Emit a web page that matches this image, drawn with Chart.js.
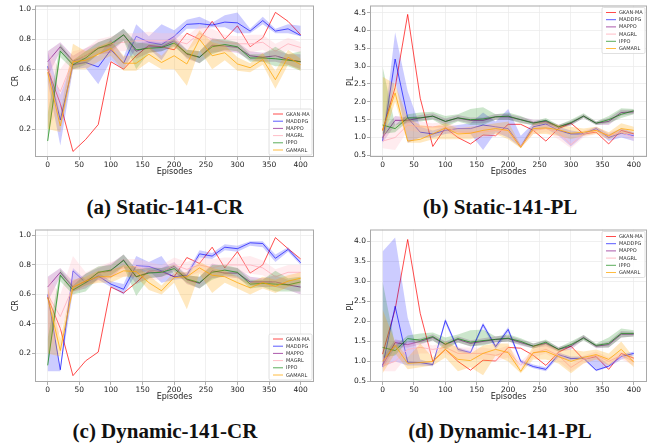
<!DOCTYPE html>
<html>
<head>
<meta charset="utf-8">
<script src="https://cdn.jsdelivr.net/npm/chart.js@4.4.1/dist/chart.umd.min.js"></script>
<style>
  body { margin: 0; background: #fff; width: 657px; height: 446px; position: relative; overflow: hidden; }
  .panel { position: absolute; }
  .cap { position: absolute; width: 330px; text-align: center; font-family: "Liberation Serif", serif; font-weight: bold; font-size: 21px; color: #111; }
</style>
</head>
<body>
<div class="panel" style="left:0;top:0"><canvas id="chartA" width="330" height="180"></canvas></div>
<div class="panel" style="left:330px;top:0"><canvas id="chartB" width="327" height="180"></canvas></div>
<div class="panel" style="left:0;top:224px"><canvas id="chartC" width="330" height="180"></canvas></div>
<div class="panel" style="left:330px;top:224px"><canvas id="chartD" width="327" height="180"></canvas></div>
<div class="cap" style="left:0;top:195px">(a) Static-141-CR</div>
<div class="cap" style="left:335px;top:195px">(b) Static-141-PL</div>
<div class="cap" style="left:0;top:419px">(c) Dynamic-141-CR</div>
<div class="cap" style="left:335px;top:419px">(d) Dynamic-141-PL</div>
<script>
const episodes = [0,20,40,60,80,100,120,140,160,180,200,220,240,260,280,300,320,340,360,380,400];
const seriesNames = ['GKAN-MA','MADDPG','MAPPO','MAGRL','IPPO','GAMARL'];
const xTicks = [0,50,100,150,200,250,300,350,400];
const crTicks = [0.2,0.4,0.6,0.8,1.0];
const plTicksStatic = [0.5,1.0,1.5,2.0,2.5,3.0,3.5,4.0,4.5];
const plTicksDynamic = [0.5,1.0,1.5,2.0,2.5,3.0,3.5,4.0];

// (a) Static-141-CR
const aCR_gkan   = [0.60,0.37,0.05,0.13,0.23,0.65,0.60,0.69,0.76,0.75,0.73,0.84,0.80,0.92,0.80,0.89,0.75,0.81,0.98,0.92,0.83];
const aCR_maddpg = [0.62,0.26,0.63,0.645,0.615,0.73,0.64,0.82,0.78,0.765,0.82,0.90,0.905,0.895,0.915,0.91,0.855,0.925,0.855,0.87,0.825];
const aCR_mappo  = [0.65,0.75,0.655,0.69,0.74,0.76,0.83,0.72,0.75,0.75,0.79,0.70,0.68,0.76,0.755,0.745,0.69,0.68,0.69,0.665,0.65];
const aCR_magrl  = [0.60,0.45,0.66,0.69,0.75,0.77,0.78,0.79,0.79,0.79,0.79,0.77,0.84,0.80,0.78,0.77,0.77,0.78,0.72,0.77,0.745];
const aCR_ippo   = [0.12,0.72,0.63,0.675,0.74,0.77,0.83,0.73,0.74,0.745,0.775,0.705,0.68,0.75,0.765,0.75,0.675,0.675,0.67,0.66,0.65];
const aCR_gamarl = [0.58,0.22,0.65,0.66,0.70,0.74,0.64,0.64,0.70,0.645,0.69,0.635,0.80,0.69,0.71,0.635,0.61,0.665,0.53,0.68,0.63];
const aCR_maddpgBand = [[0.52,0.72],[0.09,0.43],[0.6,0.66],[0.61,0.68],[0.5,0.69],[0.66,0.8],[0.6,0.68],[0.74,0.9],[0.74,0.82],[0.66,0.9],[0.79,0.86],[0.87,0.93],[0.87,0.95],[0.88,0.91],[0.88,0.96],[0.84,0.98],[0.84,0.87],[0.9,0.95],[0.84,0.87],[0.84,0.9],[0.82,0.89]];
const aCR_mappoBand  = [[0.55,0.72],[0.72,0.78],[0.62,0.69],[0.64,0.74],[0.70,0.78],[0.71,0.81],[0.79,0.87],[0.67,0.77],[0.71,0.79],[0.72,0.78],[0.76,0.82],[0.67,0.73],[0.64,0.72],[0.71,0.81],[0.72,0.79],[0.71,0.78],[0.66,0.72],[0.65,0.71],[0.65,0.73],[0.63,0.70],[0.60,0.70]];
const aCR_magrlBand  = [[0.2,0.72],[0.35,0.6],[0.6,0.72],[0.64,0.74],[0.70,0.80],[0.72,0.82],[0.72,0.84],[0.74,0.84],[0.73,0.85],[0.74,0.84],[0.74,0.84],[0.72,0.82],[0.79,0.89],[0.73,0.87],[0.73,0.83],[0.72,0.82],[0.71,0.83],[0.73,0.83],[0.67,0.77],[0.73,0.81],[0.71,0.78]];
const aCR_ippoBand   = [[0.1,0.3],[0.68,0.77],[0.6,0.66],[0.63,0.72],[0.70,0.78],[0.73,0.81],[0.79,0.87],[0.6,0.78],[0.71,0.77],[0.72,0.77],[0.75,0.8],[0.68,0.73],[0.64,0.72],[0.70,0.80],[0.73,0.80],[0.72,0.78],[0.65,0.70],[0.65,0.70],[0.62,0.75],[0.62,0.70],[0.59,0.72]];
const aCR_gamarlBand = [[0.2,0.65],[0.18,0.3],[0.6,0.77],[0.6,0.72],[0.65,0.75],[0.69,0.79],[0.59,0.69],[0.59,0.69],[0.65,0.75],[0.6,0.69],[0.6,0.78],[0.49,0.72],[0.73,0.86],[0.6,0.78],[0.66,0.76],[0.59,0.68],[0.58,0.64],[0.63,0.71],[0.47,0.59],[0.63,0.73],[0.59,0.67]];

// (b) Static-141-PL
const bPL_gkan   = [1.2,2.4,4.45,2.1,0.75,1.27,1.0,0.82,1.07,1.05,1.37,1.37,1.2,0.9,1.25,1.4,1.1,1.15,0.82,1.2,1.1];
const bPL_maddpg = [0.9,3.2,1.55,1.15,1.1,1.2,1.25,1.25,1.35,1.3,1.25,0.75,1.3,1.38,1.2,1.1,1.1,1.25,1.0,1.12,1.05];
const bPL_mappo  = [1.0,1.48,1.48,1.55,1.6,1.45,1.55,1.48,1.48,1.58,1.58,1.5,1.42,1.45,1.3,1.4,1.6,1.4,1.45,1.7,1.72];
const bPL_magrl  = [0.9,1.0,1.35,1.3,1.3,1.3,1.15,1.15,1.15,1.2,1.2,0.75,1.2,1.25,1.15,0.8,1.1,1.2,1.05,1.15,1.0];
const bPL_ippo   = [1.35,1.25,1.55,1.55,1.6,1.45,1.55,1.5,1.52,1.58,1.6,1.5,1.4,1.48,1.3,1.42,1.6,1.4,1.5,1.65,1.75];
const bPL_gamarl = [1.2,2.25,0.9,0.95,1.1,1.27,1.1,1.12,1.2,1.25,1.2,0.72,1.25,1.27,1.22,1.12,1.15,1.2,1.05,1.25,1.2];
const bPL_maddpgBand = [[0.8,1.0],[2.6,3.95],[0.85,2.3],[1.0,1.3],[1.0,1.2],[1.1,1.3],[1.15,1.35],[1.1,1.4],[0.65,1.7],[1.15,1.45],[1.0,1.8],[0.72,1.05],[1.2,1.4],[1.25,1.5],[1.05,1.3],[0.75,1.2],[1.05,1.15],[1.2,1.3],[0.9,1.1],[1.0,1.25],[0.9,1.15]];
const bPL_mappoBand  = [[0.85,1.2],[1.35,1.6],[1.4,1.56],[1.47,1.63],[1.52,1.68],[1.37,1.53],[1.47,1.63],[1.4,1.56],[1.4,1.56],[1.5,1.66],[1.5,1.66],[1.42,1.58],[1.34,1.5],[1.4,1.5],[1.24,1.36],[1.34,1.46],[1.55,1.65],[1.35,1.45],[1.35,1.55],[1.62,1.78],[1.66,1.78]];
const bPL_magrlBand  = [[0.7,1.1],[0.65,1.35],[1.2,1.5],[1.15,1.45],[1.2,1.4],[1.15,1.45],[1.0,1.3],[1.0,1.3],[1.0,1.3],[1.05,1.35],[1.1,1.3],[0.7,0.8],[1.1,1.3],[1.15,1.35],[0.95,1.35],[0.7,0.9],[1.0,1.2],[1.1,1.3],[0.95,1.15],[1.05,1.25],[0.9,1.1]];
const bPL_ippoBand   = [[1.1,3.0],[1.15,1.35],[1.45,1.65],[1.45,1.7],[1.5,1.72],[1.3,1.6],[1.45,1.65],[1.35,1.8],[1.35,1.85],[1.5,1.65],[1.5,1.7],[1.4,1.6],[1.35,1.45],[1.4,1.55],[1.25,1.35],[1.35,1.5],[1.55,1.68],[1.35,1.45],[1.4,1.6],[1.55,1.82],[1.65,1.8]];
const bPL_gamarlBand = [[0.9,2.7],[2.0,2.5],[0.85,1.55],[0.85,1.35],[0.95,1.3],[0.95,1.4],[0.95,1.25],[0.95,1.3],[1.05,1.35],[1.1,1.4],[0.95,1.45],[0.7,0.78],[1.1,1.4],[1.1,1.45],[1.05,1.35],[0.95,1.3],[1.05,1.25],[1.1,1.3],[0.95,1.15],[1.1,1.4],[1.1,1.3]];

// (c) Dynamic-141-CR
const cCR_gkan   = [0.58,0.37,0.05,0.15,0.21,0.65,0.61,0.68,0.76,0.755,0.72,0.85,0.81,0.92,0.78,0.89,0.745,0.80,0.985,0.91,0.84];
const cCR_maddpg = [0.60,0.09,0.76,0.68,0.725,0.67,0.635,0.795,0.79,0.76,0.72,0.73,0.875,0.86,0.92,0.91,0.95,0.945,0.845,0.905,0.815];
const cCR_mappo  = [0.65,0.75,0.65,0.69,0.745,0.76,0.835,0.72,0.75,0.755,0.79,0.70,0.675,0.76,0.745,0.745,0.685,0.685,0.685,0.665,0.65];
const cCR_magrl  = [0.60,0.45,0.65,0.70,0.74,0.77,0.78,0.79,0.76,0.75,0.80,0.77,0.80,0.78,0.80,0.80,0.80,0.78,0.72,0.75,0.75];
const cCR_ippo   = [0.12,0.73,0.63,0.68,0.75,0.765,0.83,0.72,0.745,0.75,0.775,0.705,0.68,0.75,0.765,0.75,0.67,0.675,0.67,0.665,0.685];
const cCR_gamarl = [0.58,0.22,0.65,0.69,0.72,0.72,0.76,0.755,0.68,0.625,0.715,0.72,0.78,0.73,0.72,0.68,0.645,0.68,0.655,0.69,0.71];
const cCR_maddpgBand = [[0.08,0.62],[0.08,0.1],[0.62,0.78],[0.66,0.7],[0.7,0.75],[0.65,0.69],[0.6,0.67],[0.74,0.86],[0.76,0.82],[0.68,0.86],[0.7,0.74],[0.71,0.75],[0.85,0.9],[0.84,0.88],[0.9,0.94],[0.89,0.93],[0.93,0.96],[0.92,0.96],[0.82,0.87],[0.89,0.92],[0.8,0.83]];
const cCR_mappoBand  = [[0.55,0.72],[0.72,0.78],[0.62,0.69],[0.64,0.74],[0.70,0.78],[0.71,0.81],[0.79,0.87],[0.67,0.77],[0.71,0.79],[0.72,0.78],[0.76,0.82],[0.67,0.73],[0.64,0.72],[0.71,0.81],[0.72,0.79],[0.71,0.78],[0.66,0.72],[0.65,0.71],[0.65,0.73],[0.63,0.70],[0.60,0.70]];
const cCR_magrlBand  = [[0.2,0.72],[0.35,0.6],[0.6,0.86],[0.65,0.75],[0.69,0.79],[0.72,0.82],[0.72,0.84],[0.74,0.84],[0.7,0.82],[0.7,0.8],[0.75,0.85],[0.72,0.82],[0.75,0.85],[0.72,0.84],[0.75,0.85],[0.75,0.85],[0.74,0.86],[0.73,0.83],[0.67,0.77],[0.7,0.8],[0.7,0.8]];
const cCR_ippoBand   = [[0.1,0.3],[0.69,0.77],[0.6,0.66],[0.62,0.74],[0.71,0.79],[0.73,0.8],[0.79,0.87],[0.59,0.77],[0.71,0.78],[0.72,0.78],[0.75,0.8],[0.68,0.73],[0.64,0.72],[0.7,0.8],[0.73,0.8],[0.72,0.78],[0.64,0.7],[0.65,0.7],[0.62,0.76],[0.62,0.71],[0.62,0.72]];
const cCR_gamarlBand = [[0.2,0.65],[0.18,0.3],[0.62,0.7],[0.66,0.72],[0.68,0.76],[0.68,0.76],[0.72,0.8],[0.72,0.79],[0.63,0.73],[0.6,0.66],[0.68,0.75],[0.5,0.75],[0.74,0.82],[0.61,0.78],[0.68,0.76],[0.64,0.72],[0.6,0.68],[0.64,0.72],[0.61,0.7],[0.65,0.73],[0.67,0.75]];

// (d) Dynamic-141-PL
const dPL_gkan   = [1.18,2.3,4.05,2.2,1.0,1.3,1.0,0.78,1.03,1.01,1.35,1.33,1.15,0.9,1.23,1.38,1.05,1.12,0.8,1.2,1.08];
const dPL_maddpg = [0.87,2.38,0.98,0.97,0.92,2.02,1.3,1.22,1.92,1.37,1.8,1.0,0.87,0.8,1.17,1.07,1.08,0.78,0.88,1.12,1.2];
const dPL_mappo  = [0.9,1.47,1.42,1.5,1.6,1.42,1.55,1.45,1.5,1.55,1.57,1.47,1.38,1.45,1.3,1.38,1.6,1.38,1.42,1.68,1.68];
const dPL_magrl  = [0.9,1.0,1.3,1.35,1.3,1.35,1.2,1.2,1.2,1.15,1.25,0.9,1.2,1.3,1.15,0.85,1.05,1.15,1.0,1.15,1.0];
const dPL_ippo   = [1.35,1.27,1.57,1.53,1.62,1.43,1.57,1.48,1.52,1.55,1.58,1.5,1.38,1.48,1.3,1.42,1.58,1.4,1.45,1.7,1.7];
const dPL_gamarl = [1.0,1.4,0.95,0.97,1.0,1.3,1.05,1.02,1.2,1.3,1.22,0.75,1.22,1.25,1.12,1.0,1.1,1.17,1.05,1.3,0.98];
const dPL_maddpgBand = [[0.85,3.75],[1.0,4.1],[0.9,2.1],[0.9,1.05],[0.88,0.96],[1.95,2.08],[1.25,1.35],[1.18,1.26],[1.85,1.97],[1.3,1.42],[1.72,1.86],[0.95,1.05],[0.83,0.92],[0.75,0.85],[1.1,1.22],[1.02,1.12],[1.05,1.12],[0.75,1.15],[0.85,0.92],[1.05,1.18],[1.15,1.25]];
const dPL_mappoBand  = [[0.8,1.1],[1.35,1.55],[1.35,1.5],[1.42,1.58],[1.52,1.68],[1.35,1.5],[1.47,1.63],[1.37,1.53],[1.42,1.58],[1.47,1.63],[1.5,1.65],[1.4,1.55],[1.32,1.45],[1.38,1.52],[1.24,1.36],[1.3,1.45],[1.54,1.66],[1.33,1.43],[1.35,1.5],[1.6,1.76],[1.62,1.74]];
const dPL_magrlBand  = [[0.75,1.05],[0.75,1.3],[1.15,1.45],[1.2,1.5],[1.2,1.4],[1.2,1.5],[1.05,1.35],[1.05,1.35],[1.05,1.35],[1.0,1.3],[1.1,1.4],[0.8,1.0],[1.1,1.3],[1.2,1.4],[1.0,1.3],[0.75,0.95],[0.95,1.15],[1.05,1.25],[0.9,1.1],[1.05,1.25],[0.9,1.1]];
const dPL_ippoBand   = [[1.1,3.0],[1.15,1.4],[1.5,1.65],[1.45,1.7],[1.52,1.72],[1.3,1.6],[1.47,1.67],[1.38,1.78],[1.4,1.8],[1.48,1.62],[1.5,1.68],[1.42,1.58],[1.32,1.45],[1.42,1.55],[1.25,1.35],[1.36,1.5],[1.52,1.66],[1.35,1.45],[1.35,1.6],[1.6,1.82],[1.62,1.78]];
const dPL_gamarlBand = [[0.7,2.3],[1.2,1.5],[0.8,1.1],[0.85,1.45],[0.9,1.1],[1.1,1.5],[0.75,1.35],[0.85,1.2],[0.65,1.4],[1.15,1.45],[1.0,1.45],[0.7,0.8],[1.05,1.4],[1.05,1.45],[0.95,1.3],[0.7,1.3],[0.95,1.25],[1.05,1.3],[0.9,1.2],[1.15,1.5],[0.85,1.1]];

const lineColors = ['rgba(255,0,0,0.7)','rgba(0,0,255,0.65)','rgba(128,0,128,0.65)','rgba(255,182,193,0.9)','rgba(0,128,0,0.65)','rgba(255,165,0,0.75)'];
const bandColors = ['rgba(255,0,0,0.2)','rgba(0,0,255,0.2)','rgba(128,0,128,0.2)','rgba(255,192,203,0.3)','rgba(0,128,0,0.2)','rgba(255,165,0,0.25)'];
const tickFont = {family: 'DejaVu Sans', size: 7.5};

const pts = arr => arr.map((v, i) => ({x: episodes[i], y: v}));

const framePlugin = {//grey box round the plot area + small legend inside it
  id: 'frame',
  afterDatasetsDraw(chart) {
    const {ctx, chartArea: a} = chart;
    ctx.save();
    ctx.strokeStyle = '#a9a9a9';
    ctx.lineWidth = 1;
    ctx.strokeRect(a.left + 0.5, a.top + 0.5, a.right - a.left - 1, a.bottom - a.top - 1);
    ctx.restore();
  },
  afterDraw(chart) {
    const o = chart.options.plugins.frame;
    const {ctx, chartArea: a} = chart;
    const w = 43, h = 46;
    const bx = a.right - 2 - w;
    const by = o.corner === 'tr' ? a.top + 2 : a.bottom - 2 - h;
    ctx.save();
    ctx.fillStyle = 'rgba(255,255,255,0.85)';
    ctx.strokeStyle = '#d8d8d8';
    ctx.lineWidth = 0.8;
    ctx.beginPath();
    ctx.roundRect(bx, by, w, h, 1.5);
    ctx.fill();
    ctx.stroke();
    ctx.font = '5px "DejaVu Sans"';
    ctx.textBaseline = 'middle';
    seriesNames.forEach((name, i) => {
      const y = by + 5 + i * 7.2;
      ctx.strokeStyle = lineColors[i];
      ctx.lineWidth = 1;
      ctx.beginPath();
      ctx.moveTo(bx + 4, y);
      ctx.lineTo(bx + 14, y);
      ctx.stroke();
      ctx.fillStyle = '#333';
      ctx.fillText(name, bx + 17, y + 0.3);
    });
    ctx.restore();
  }
};

function buildChart(id, opt) {
  const datasets = [];
  opt.means.forEach((m, i) => {
    const band = opt.bands[i];
    if (band) {
      datasets.push({data: pts(band.map(b => b[1])), borderWidth: 0, pointRadius: 0, fill: false, order: -datasets.length});
      datasets.push({data: pts(band.map(b => b[0])), borderWidth: 0, pointRadius: 0, fill: datasets.length - 1,
        backgroundColor: bandColors[i], order: -datasets.length});
    }
    datasets.push({label: seriesNames[i], data: pts(m), borderColor: lineColors[i], borderWidth: 1,
      pointRadius: 0, fill: false, tension: 0, order: -datasets.length});
  });

  return new Chart(document.getElementById(id), {
    type: 'line',
    data: {datasets},
    plugins: [framePlugin],
    options: {
      responsive: false,
      animation: false,
      layout: {autoPadding: false, padding: opt.padding},
      plugins: {legend: {display: false}, tooltip: {enabled: false}, frame: {corner: opt.corner}},
      scales: {
        x: {
          type: 'linear', min: -20, max: 421,
          afterBuildTicks: s => { s.ticks = xTicks.map(v => ({value: v})); },
          afterFit: s => { s.height = opt.xHeight; },
          ticks: {font: tickFont, color: '#222', padding: 1, maxRotation: 0, autoSkip: false},
          grid: {color: '#ececec', lineWidth: 0.8, tickLength: 3, tickColor: '#999'},
          border: {display: false},
          title: {display: true, text: 'Episodes', font: {family: 'DejaVu Sans', size: 8}, color: '#222',
            padding: {top: 0, bottom: opt.xTitlePad}}
        },
        y: {
          min: opt.yMin, max: opt.yMax,
          afterBuildTicks: s => { s.ticks = opt.yTicks.map(v => ({value: v})); },
          afterFit: s => { s.width = opt.yWidth; },
          ticks: {font: tickFont, color: '#222', padding: 1, callback: v => v.toFixed(1)},
          grid: {color: '#ececec', lineWidth: 0.8, tickLength: 3, tickColor: '#999'},
          border: {display: false},
          title: {display: true, text: opt.yLabel, font: {family: 'DejaVu Sans', size: 8}, color: '#222',
            padding: {top: opt.yTitlePad, bottom: 0}}
        }
      }
    }
  });
}

buildChart('chartA', {
  means: [aCR_gkan, aCR_maddpg, aCR_mappo, aCR_magrl, aCR_ippo, aCR_gamarl],
  bands: [null, aCR_maddpgBand, aCR_mappoBand, aCR_magrlBand, aCR_ippoBand, aCR_gamarlBand],
  yMin: 0.013, yMax: 1.026, yTicks: crTicks, yLabel: 'CR', corner: 'br',
  padding: {left: 0, right: 16, top: 3, bottom: 0}, yWidth: 35, xHeight: 23, xTitlePad: 3, yTitlePad: 11
});
buildChart('chartB', {
  means: [bPL_gkan, bPL_maddpg, bPL_mappo, bPL_magrl, bPL_ippo, bPL_gamarl],
  bands: [null, bPL_maddpgBand, bPL_mappoBand, bPL_magrlBand, bPL_ippoBand, bPL_gamarlBand],
  yMin: 0.454, yMax: 4.70, yTicks: plTicksStatic, yLabel: 'PL', corner: 'tr',
  padding: {left: 0, right: 10, top: 3, bottom: 0}, yWidth: 40, xHeight: 23, xTitlePad: 3, yTitlePad: 16
});
buildChart('chartC', {
  means: [cCR_gkan, cCR_maddpg, cCR_mappo, cCR_magrl, cCR_ippo, cCR_gamarl],
  bands: [null, cCR_maddpgBand, cCR_mappoBand, cCR_magrlBand, cCR_ippoBand, cCR_gamarlBand],
  yMin: 0.007, yMax: 1.04, yTicks: crTicks, yLabel: 'CR', corner: 'br',
  padding: {left: 0, right: 16, top: 3, bottom: 0}, yWidth: 35, xHeight: 22, xTitlePad: 2.5, yTitlePad: 11
});
buildChart('chartD', {
  means: [dPL_gkan, dPL_maddpg, dPL_mappo, dPL_magrl, dPL_ippo, dPL_gamarl],
  bands: [null, dPL_maddpgBand, dPL_mappoBand, dPL_magrlBand, dPL_ippoBand, dPL_gamarlBand],
  yMin: 0.484, yMax: 4.30, yTicks: plTicksDynamic, yLabel: 'PL', corner: 'tr',
  padding: {left: 0, right: 10, top: 2, bottom: 0}, yWidth: 40, xHeight: 22, xTitlePad: 2.5, yTitlePad: 16
});
</script>
</body>
</html>
